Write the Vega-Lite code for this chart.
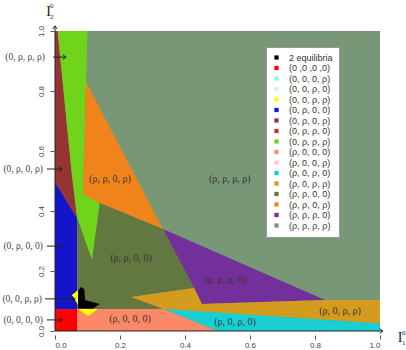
{
  "$schema": "https://vega.github.io/schema/vega-lite/v6.json",
  "width": 325,
  "height": 300,
  "autosize": "none",
  "padding": {"left": 55, "top": 31, "right": 26, "bottom": 19},
  "background": "white",
  "config": {"view": {"stroke": null}, "font": "Liberation Sans"},
  "datasets": {
    "main": [
      {"p": 1, "s": "(0 ,0 ,0 ,0)", "o": 1, "x": 0, "y": 0},
      {"p": 1, "s": "(0 ,0 ,0 ,0)", "o": 2, "x": 0.068, "y": 0},
      {"p": 1, "s": "(0 ,0 ,0 ,0)", "o": 3, "x": 0.068, "y": 0.073},
      {"p": 1, "s": "(0 ,0 ,0 ,0)", "o": 4, "x": 0, "y": 0.073},
      {"p": 2, "s": "(0, ρ, 0, 0)", "o": 1, "x": 0, "y": 0.073},
      {"p": 2, "s": "(0, ρ, 0, 0)", "o": 2, "x": 0.068, "y": 0.073},
      {"p": 2, "s": "(0, ρ, 0, 0)", "o": 3, "x": 0.068, "y": 0.377},
      {"p": 2, "s": "(0, ρ, 0, 0)", "o": 4, "x": 0, "y": 0.497},
      {"p": 3, "s": "(0, ρ, 0, ρ)", "o": 1, "x": 0, "y": 1},
      {"p": 3, "s": "(0, ρ, 0, ρ)", "o": 2, "x": 0.008, "y": 1},
      {"p": 3, "s": "(0, ρ, 0, ρ)", "o": 3, "x": 0.052, "y": 0.52},
      {"p": 3, "s": "(0, ρ, 0, ρ)", "o": 4, "x": 0.068, "y": 0.377},
      {"p": 3, "s": "(0, ρ, 0, ρ)", "o": 5, "x": 0, "y": 0.497},
      {"p": 4, "s": "(0, ρ, ρ, ρ)", "o": 1, "x": 0.008, "y": 1},
      {"p": 4, "s": "(0, ρ, ρ, ρ)", "o": 2, "x": 0.1, "y": 1},
      {"p": 4, "s": "(0, ρ, ρ, ρ)", "o": 3, "x": 0.0956, "y": 0.83},
      {"p": 4, "s": "(0, ρ, ρ, ρ)", "o": 4, "x": 0.086, "y": 0.457},
      {"p": 4, "s": "(0, ρ, ρ, ρ)", "o": 5, "x": 0.138, "y": 0.427},
      {"p": 4, "s": "(0, ρ, ρ, ρ)", "o": 6, "x": 0.114, "y": 0.237},
      {"p": 4, "s": "(0, ρ, ρ, ρ)", "o": 7, "x": 0.068, "y": 0.377},
      {"p": 4, "s": "(0, ρ, ρ, ρ)", "o": 8, "x": 0.052, "y": 0.52},
      {"p": 5, "s": "(ρ, ρ, 0, ρ)", "o": 1, "x": 0.0956, "y": 0.83},
      {"p": 5, "s": "(ρ, ρ, 0, ρ)", "o": 2, "x": 0.332, "y": 0.34},
      {"p": 5, "s": "(ρ, ρ, 0, ρ)", "o": 3, "x": 0.138, "y": 0.427},
      {"p": 5, "s": "(ρ, ρ, 0, ρ)", "o": 4, "x": 0.086, "y": 0.457},
      {"p": 6, "s": "(ρ, ρ, 0, 0)", "o": 1, "x": 0.068, "y": 0.073},
      {"p": 6, "s": "(ρ, ρ, 0, 0)", "o": 2, "x": 0.334, "y": 0.073},
      {"p": 6, "s": "(ρ, ρ, 0, 0)", "o": 3, "x": 0.234, "y": 0.113},
      {"p": 6, "s": "(ρ, ρ, 0, 0)", "o": 4, "x": 0.428, "y": 0.143},
      {"p": 6, "s": "(ρ, ρ, 0, 0)", "o": 5, "x": 0.332, "y": 0.34},
      {"p": 6, "s": "(ρ, ρ, 0, 0)", "o": 6, "x": 0.138, "y": 0.427},
      {"p": 6, "s": "(ρ, ρ, 0, 0)", "o": 7, "x": 0.114, "y": 0.237},
      {"p": 6, "s": "(ρ, ρ, 0, 0)", "o": 8, "x": 0.068, "y": 0.377},
      {"p": 7, "s": "(ρ, ρ, ρ, 0)", "o": 1, "x": 0.332, "y": 0.34},
      {"p": 7, "s": "(ρ, ρ, ρ, 0)", "o": 2, "x": 0.831, "y": 0.103},
      {"p": 7, "s": "(ρ, ρ, ρ, 0)", "o": 3, "x": 0.452, "y": 0.09},
      {"p": 7, "s": "(ρ, ρ, ρ, 0)", "o": 4, "x": 0.428, "y": 0.143},
      {"p": 8, "s": "(ρ, 0, ρ, ρ)", "o": 1, "x": 0.234, "y": 0.113},
      {"p": 8, "s": "(ρ, 0, ρ, ρ)", "o": 2, "x": 0.428, "y": 0.143},
      {"p": 8, "s": "(ρ, 0, ρ, ρ)", "o": 3, "x": 0.452, "y": 0.09},
      {"p": 8, "s": "(ρ, 0, ρ, ρ)", "o": 4, "x": 0.831, "y": 0.103},
      {"p": 8, "s": "(ρ, 0, ρ, ρ)", "o": 5, "x": 1, "y": 0.103},
      {"p": 8, "s": "(ρ, 0, ρ, ρ)", "o": 6, "x": 1, "y": 0.025},
      {"p": 8, "s": "(ρ, 0, ρ, ρ)", "o": 7, "x": 0.334, "y": 0.073},
      {"p": 9, "s": "(ρ, 0, ρ, 0)", "o": 1, "x": 0.334, "y": 0.073},
      {"p": 9, "s": "(ρ, 0, ρ, 0)", "o": 2, "x": 1, "y": 0.025},
      {"p": 9, "s": "(ρ, 0, ρ, 0)", "o": 3, "x": 1, "y": 0},
      {"p": 9, "s": "(ρ, 0, ρ, 0)", "o": 4, "x": 0.5, "y": 0},
      {"p": 10, "s": "(ρ, 0, 0, 0)", "o": 1, "x": 0.068, "y": 0},
      {"p": 10, "s": "(ρ, 0, 0, 0)", "o": 2, "x": 0.5, "y": 0},
      {"p": 10, "s": "(ρ, 0, 0, 0)", "o": 3, "x": 0.334, "y": 0.073},
      {"p": 10, "s": "(ρ, 0, 0, 0)", "o": 4, "x": 0.068, "y": 0.073}
    ],
    "small": [
      {"p": 11, "s": "(0, 0, ρ, ρ)", "o": 1, "x": 0.052, "y": 0.12},
      {"p": 11, "s": "(0, 0, ρ, ρ)", "o": 2, "x": 0.071, "y": 0.137},
      {"p": 11, "s": "(0, 0, ρ, ρ)", "o": 3, "x": 0.071, "y": 0.087},
      {"p": 12, "s": "(0, 0, ρ, ρ)", "o": 1, "x": 0.071, "y": 0.073},
      {"p": 12, "s": "(0, 0, ρ, ρ)", "o": 2, "x": 0.132, "y": 0.073},
      {"p": 12, "s": "(0, 0, ρ, ρ)", "o": 3, "x": 0.102, "y": 0.05},
      {"p": 13, "s": "2 equilibria", "o": 1, "x": 0.071, "y": 0.133},
      {"p": 13, "s": "2 equilibria", "o": 2, "x": 0.08, "y": 0.147},
      {"p": 13, "s": "2 equilibria", "o": 3, "x": 0.09, "y": 0.14},
      {"p": 13, "s": "2 equilibria", "o": 4, "x": 0.093, "y": 0.103},
      {"p": 13, "s": "2 equilibria", "o": 5, "x": 0.138, "y": 0.09},
      {"p": 13, "s": "2 equilibria", "o": 6, "x": 0.117, "y": 0.075},
      {"p": 13, "s": "2 equilibria", "o": 7, "x": 0.071, "y": 0.075}
    ]
  },
  "layer": [
    {
      "data": {"values": [{"x": 0, "x2": 1, "y": 0, "y2": 1}]},
      "mark": {"type": "rect", "fill": "#779777"},
      "encoding": {
        "x": {"field": "x", "type": "quantitative", "title": null, "scale": {"domain": [0, 1], "nice": false, "zero": false},
          "axis": {"title": null, "values": [0, 0.2, 0.4, 0.6, 0.8, 1], "format": ".1f", "grid": false, "domain": false, "offset": 4, "tickSize": 4, "tickColor": "#555", "labelColor": "#444", "labelFontSize": 8, "labelPadding": 2}},
        "x2": {"field": "x2"},
        "y": {"field": "y", "type": "quantitative", "title": null, "scale": {"domain": [0, 1], "nice": false, "zero": false},
          "axis": {"title": null, "values": [0, 0.2, 0.4, 0.6, 0.8, 1], "format": ".1f", "grid": false, "domain": false, "offset": 1, "tickSize": 4, "tickColor": "#555", "labelColor": "#444", "labelFontSize": 8, "labelAngle": 270, "labelAlign": "center", "labelBaseline": "bottom", "labelPadding": 5}},
        "y2": {"field": "y2"}
      }
    },
    {
      "data": {"name": "main"},
      "mark": {"type": "line", "filled": true, "interpolate": "linear-closed", "strokeWidth": 0},
      "encoding": {
        "x": {"field": "x", "type": "quantitative", "title": null},
        "y": {"field": "y", "type": "quantitative", "title": null},
        "detail": {"field": "p"},
        "order": {"field": "o"},
        "color": {"field": "s", "type": "nominal",
          "scale": {
            "domain": ["2 equilibria", "(0 ,0 ,0 ,0)", "(0, 0, 0, ρ)", "(0, 0, ρ, 0)", "(0, 0, ρ, ρ)", "(0, ρ, 0, 0)", "(0, ρ, 0, ρ)", "(0, ρ, ρ, 0)", "(0, ρ, ρ, ρ)", "(ρ, 0, 0, 0)", "(ρ, 0, 0, ρ)", "(ρ, 0, ρ, 0)", "(ρ, 0, ρ, ρ)", "(ρ, ρ, 0, 0)", "(ρ, ρ, 0, ρ)", "(ρ, ρ, ρ, 0)", "(ρ, ρ, ρ, ρ)"],
            "range": ["#000000", "#ff0000", "#7fffd4", "#e0f0ec", "#ffff00", "#1414cc", "#963333", "#b03a3a", "#70d41a", "#fb8866", "#ffc8d0", "#18d0d3", "#d39c1f", "#637840", "#f0841a", "#74309a", "#779777"]
          },
          "legend": {"title": null, "orient": "none", "legendX": 211, "legendY": 16, "symbolType": "square", "symbolSize": 18, "symbolStrokeWidth": 0, "labelFontSize": 9, "labelColor": "#333", "labelFont": "Liberation Sans", "rowPadding": 0.5, "padding": 6, "labelOffset": 8, "fillColor": "white", "strokeColor": "#999"}
        }
      }
    },
    {
      "data": {"name": "small"},
      "mark": {"type": "line", "filled": true, "interpolate": "linear-closed", "strokeWidth": 0},
      "encoding": {
        "x": {"field": "x", "type": "quantitative", "title": null},
        "y": {"field": "y", "type": "quantitative", "title": null},
        "detail": {"field": "p"},
        "order": {"field": "o"},
        "color": {"field": "s", "type": "nominal"}
      }
    },
    {
      "data": {"values": [
        {"t": "(ρ, ρ, 0, ρ)", "x": 0.169, "y": 0.507},
        {"t": "(ρ, ρ, ρ, ρ)", "x": 0.538, "y": 0.507},
        {"t": "(ρ, ρ, 0, 0)", "x": 0.234, "y": 0.243},
        {"t": "(ρ, ρ, ρ, 0)", "x": 0.523, "y": 0.17},
        {"t": "(ρ, 0, ρ, ρ)", "x": 0.877, "y": 0.067},
        {"t": "(ρ, 0, 0, 0)", "x": 0.231, "y": 0.04},
        {"t": "(ρ, 0, ρ, 0)", "x": 0.554, "y": 0.03}
      ]},
      "mark": {"type": "text", "font": "Liberation Serif", "fontSize": 10, "fill": "#333"},
      "encoding": {
        "x": {"field": "x", "type": "quantitative", "title": null},
        "y": {"field": "y", "type": "quantitative", "title": null},
        "text": {"field": "t"}
      }
    },
    {
      "data": {"values": [
        {"t": "(0, ρ, ρ, ρ)", "x": -0.031, "y": 0.913},
        {"t": "(0, ρ, 0, ρ)", "x": -0.037, "y": 0.54},
        {"t": "(0, ρ, 0, 0)", "x": -0.037, "y": 0.283},
        {"t": "(0, 0, ρ, ρ)", "x": -0.04, "y": 0.107},
        {"t": "(0, 0, 0, 0)", "x": -0.037, "y": 0.037}
      ]},
      "mark": {"type": "text", "font": "Liberation Serif", "fontSize": 9.5, "fill": "#444", "align": "right"},
      "encoding": {
        "x": {"field": "x", "type": "quantitative", "title": null},
        "y": {"field": "y", "type": "quantitative", "title": null},
        "text": {"field": "t"}
      }
    },
    {
      "data": {"values": [
        {"x": -0.006, "x2": 0.034, "y": 0.913, "y2": 0.913, "d": "r"},
        {"x": -0.025, "x2": 0.022, "y": 0.54, "y2": 0.54, "d": "r"},
        {"x": -0.025, "x2": 0.022, "y": 0.283, "y2": 0.283, "d": "r"},
        {"x": -0.031, "x2": 0.062, "y": 0.107, "y2": 0.107, "d": "r"},
        {"x": -0.025, "x2": 0.022, "y": 0.037, "y2": 0.037, "d": "r"},
        {"x": 0, "x2": 1.009, "y": 0, "y2": 0, "d": "r"},
        {"x": 0, "x2": 0, "y": 0, "y2": 1.017, "d": "u"}
      ]},
      "layer": [
        {
          "mark": {"type": "rule", "color": "#222", "strokeWidth": 1},
          "encoding": {
            "x": {"field": "x", "type": "quantitative", "title": null},
            "x2": {"field": "x2"},
            "y": {"field": "y", "type": "quantitative", "title": null},
            "y2": {"field": "y2"}
          }
        },
        {
          "transform": [{"filter": "datum.d === 'r'"}],
          "mark": {"type": "point", "shape": "M -1 -0.7 L 0 0 L -1 0.7", "filled": false, "stroke": "#222", "strokeWidth": 1, "size": 40, "opacity": 1},
          "encoding": {
            "x": {"field": "x2", "type": "quantitative", "title": null},
            "y": {"field": "y", "type": "quantitative", "title": null}
          }
        },
        {
          "transform": [{"filter": "datum.d === 'u'"}],
          "mark": {"type": "point", "shape": "M -0.7 1 L 0 0 L 0.7 1", "filled": false, "stroke": "#222", "strokeWidth": 1, "size": 40, "opacity": 1},
          "encoding": {
            "x": {"field": "x", "type": "quantitative", "title": null},
            "y": {"field": "y2", "type": "quantitative", "title": null}
          }
        }
      ]
    },
    {
      "data": {"values": [
        {"t": "I", "x": -0.02, "y": 1.063, "f": 14},
        {"t": "0", "x": -0.01, "y": 1.083, "f": 7},
        {"t": "2", "x": -0.01, "y": 1.048, "f": 7},
        {"t": "I", "x": 1.062, "y": -0.023, "f": 14},
        {"t": "0", "x": 1.073, "y": -0.006, "f": 7},
        {"t": "1", "x": 1.073, "y": -0.041, "f": 7}
      ]},
      "mark": {"type": "text", "font": "Liberation Serif", "fill": "#222", "align": "center"},
      "encoding": {
        "x": {"field": "x", "type": "quantitative", "title": null},
        "y": {"field": "y", "type": "quantitative", "title": null},
        "text": {"field": "t"},
        "size": {"field": "f", "type": "quantitative", "scale": null}
      }
    }
  ]
}
